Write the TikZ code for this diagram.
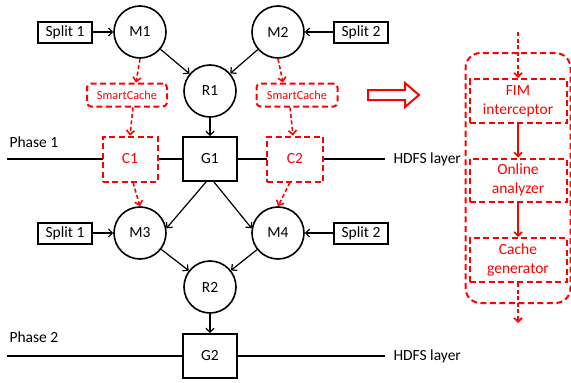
\documentclass[tikz,border=0pt]{standalone}
\usepackage{fontspec}
\setmainfont{Carlito}
\usetikzlibrary{positioning,arrows.meta}
\definecolor{cred}{RGB}{255,0,0}

\begin{document}
\begin{tikzpicture}[x=1pt,y=-1pt,
  font=\fontsize{15.5}{19}\selectfont,
  job/.style={circle,draw,line width=1.6pt,minimum size=52pt,inner sep=0pt,fill=white},
  split/.style={draw,line width=2pt,minimum width=54pt,minimum height=21pt,inner sep=0pt,fill=white},
  gbox/.style={draw,line width=2pt,minimum width=54pt,minimum height=44pt,inner sep=0pt,fill=white},
  cbox/.style={draw=cred,text=cred,line width=2pt,dash pattern=on 6pt off 3.5pt,fill=white,inner sep=0pt},
  arr/.style={line width=1.2pt,-{Straight Barb[length=4pt,width=8pt]}},
  darr/.style={cred,line width=1.6pt,dash pattern=on 4pt off 2.5pt,-{Straight Barb[length=4pt,width=8pt]}},
  rarr/.style={cred,line width=1.6pt,-{Straight Barb[length=4pt,width=8pt]}}]
\useasboundingbox (0,0) rectangle (571,383);

% hdfs layers
\draw[line width=1.6pt] (7,159) -- (385,159);
\draw[line width=1.6pt] (7,356) -- (385,356);
\node[anchor=west] (ph1) at (6,142) {Phase 1};
\node[anchor=west] (ph2) at (6,337) {Phase 2};
\node[anchor=west] (hdfs1) at (390,159) {HDFS layer};
\node[anchor=west] (hdfs2) at (390,356) {HDFS layer};

% phase 1
\node[split] (s1) at (65,32) {Split 1};
\node[job] (m1) at (140,32) {M1};
\node[job] (m2) at (278,32) {M2};
\node[split] (s2) at (361,32) {Split 2};
\node[job] (r1) at (210,91) {R1};
\node[cbox,rounded corners=4pt,minimum width=80pt,minimum height=23pt,font=\fontsize{12.3}{14}\selectfont] (sc1) at (127,95) {SmartCache};
\node[cbox,rounded corners=4pt,minimum width=81pt,minimum height=23pt,font=\fontsize{12.3}{14}\selectfont] (sc2) at (297,95) {SmartCache};
\node[cbox,minimum width=55pt,minimum height=45pt] (c1) at (130,159) {C1};
\node[gbox] (g1) at (210,159) {G1};
\node[cbox,minimum width=56pt,minimum height=45pt] (c2) at (295,159) {C2};

% phase 2
\node[split] (s3) at (65,233) {Split 1};
\node[job] (m3) at (140,233) {M3};
\node[job] (m4) at (278,233) {M4};
\node[split] (s4) at (361,233) {Split 2};
\node[job] (r2) at (210,287) {R2};
\node[gbox] (g2) at (210,356) {G2};

\draw[arr] (s1) -- (m1);
\draw[arr] (s2) -- (m2);
\draw[arr] (m1) -- (r1);
\draw[arr] (m2) -- (r1);
\draw[arr] (r1) -- (g1);
\draw[arr] ([xshift=-4pt]g1.south) -- (m3.10);
\draw[arr] ([xshift=4pt]g1.south) -- (m4.170);
\draw[arr] (s3) -- (m3);
\draw[arr] (s4) -- (m4);
\draw[arr] (m3) -- (r2);
\draw[arr] (m4) -- (r2);
\draw[arr] (r2) -- (g2);

\draw[darr] (m1.south) -- ([xshift=9pt]sc1.north);
\draw[darr] ([xshift=6pt]sc1.south) -- (c1.north);
\draw[darr] ([xshift=3pt]c1.south) -- (m3.north);
\draw[darr] (m2.south) -- ([xshift=-14pt]sc2.north);
\draw[darr] ([xshift=-7pt]sc2.south) -- ([xshift=-2pt]c2.north);
\draw[darr] ([xshift=-5pt]c2.south) -- (m4.north);

% smartcache detail
\draw[cred,line width=2pt,line join=miter] (368,90) -- (405,90) -- (405,83) -- (419,95)
  -- (405,107) -- (405,100) -- (368,100) -- cycle;
\node[cbox,rounded corners=15pt,minimum width=105pt,minimum height=250pt,fill=none] (panel) at (518,178) {};
\node[cbox,align=center,minimum width=97pt,minimum height=44pt] (fim) at (518,101) {FIM\\interceptor};
\node[cbox,align=center,minimum width=97pt,minimum height=43pt] (onl) at (518,180) {Online\\analyzer};
\node[cbox,align=center,minimum width=97pt,minimum height=44pt] (gen) at (518,260) {Cache\\generator};
\coordinate (pin) at (518,32);
\coordinate (pout) at (518,323);
\draw[darr] (pin) -- (fim);
\draw[rarr] (fim) -- (onl);
\draw[rarr] (onl) -- (gen);
\draw[darr] (gen) -- (pout);
\end{tikzpicture}
\end{document}
